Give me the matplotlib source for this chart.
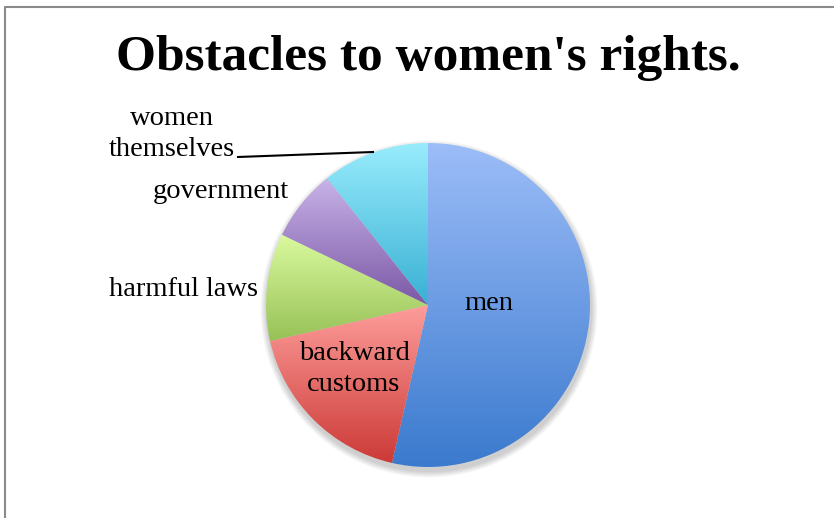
import matplotlib
matplotlib.use("Agg")
import matplotlib.pyplot as plt
import numpy as np
from matplotlib.colors import LinearSegmentedColormap
from matplotlib.patches import Circle

labels = ["men", "backward\ncustoms", "harmful laws", "government", "women\nthemselves"]
counts = [15, 5, 3, 2, 3]
tops = ["#9cbdf8", "#fd9d9a", "#dafa9e", "#c8b3e8", "#98ecfc"]
bottoms = ["#3b7ace", "#cc3a37", "#97c157", "#7b58a6", "#39b0d4"]

W, H = 834, 518
fig = plt.figure(figsize=(W / 100, H / 100), dpi=100)
ax = fig.add_axes([0, 0, 1, 1])

CX, CY, R = 428, H - 305, 162

# soft shadow under the pie
for i in range(8):
    ax.add_patch(Circle((CX + 1, CY - 4), R + 1 + i * 0.8, color="#000000",
                        alpha=0.025, lw=0, zorder=0))

wedges, _ = ax.pie(counts, center=(CX, CY), radius=R, startangle=90,
                   counterclock=False, frame=True,
                   wedgeprops=dict(linewidth=0))
ax.set_xlim(0, W)
ax.set_ylim(0, H)
ax.set_aspect("equal")

# vertical gradient for each slice
grad = np.linspace(0, 1, 256).reshape(-1, 1)
for w, top, bot in zip(wedges, tops, bottoms):
    w.set_facecolor("none")
    ext = w.get_path().get_extents(w.get_transform() + ax.transData.inverted())
    cmap = LinearSegmentedColormap.from_list("g", [bot, top])
    im = ax.imshow(grad, cmap=cmap, origin="lower", aspect="auto",
                   extent=(ext.x0, ext.x1, ext.y0, ext.y1), zorder=1)
    im.set_clip_path(w)
ax.set_xlim(0, W)
ax.set_ylim(0, H)
ax.axis("off")

font = "Liberation Serif"
ax.text(428, H - 58, "Obstacles to women's rights.", ha="center", va="center",
        fontsize=37, fontweight="bold", family=font)

lab_pos = [(489, 303), (354, 369), (184, 289), (221, 192), (172, 134)]
for lab, (x, y) in zip(labels, lab_pos):
    ax.text(x, H - y, lab, ha="center", va="center", fontsize=20.5,
            family=font, linespacing=1.35, zorder=3)
ax.plot([238, 373], [H - 157, H - 152], color="black", lw=1.5, zorder=3)

# chart frame
ax.plot([5, 5, W], [0, H - 7, H - 7], color="#8a8a8a", lw=1.5)

fig.savefig("out.png", dpi=100)
